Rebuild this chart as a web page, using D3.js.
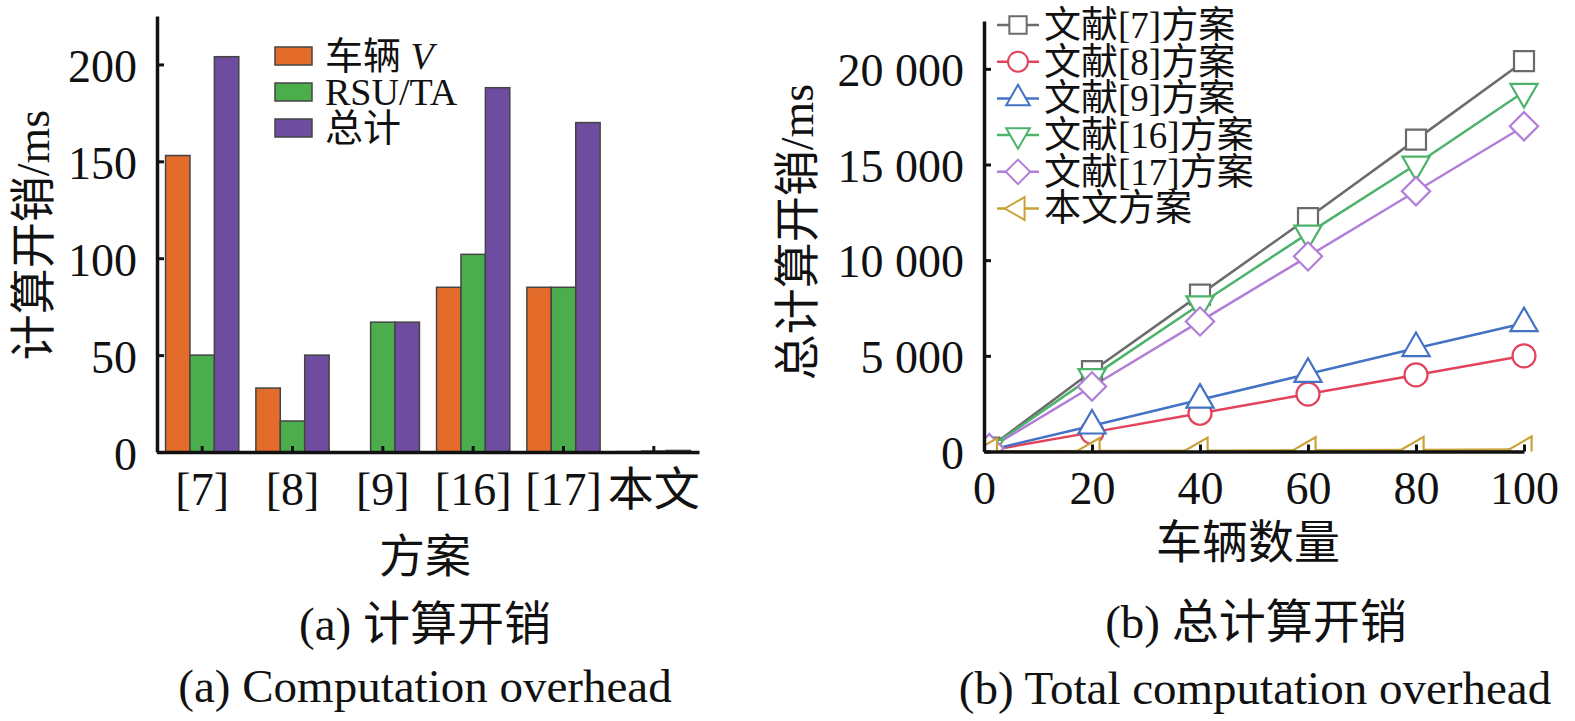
<!DOCTYPE html>
<html>
<head>
<meta charset="utf-8">
<script src="https://cdn.jsdelivr.net/npm/d3@7"></script>
<style>
  body { margin: 0; background: #fff; }
  svg text { font-family: "Liberation Serif", "Times New Roman", "Noto Sans CJK SC", serif; fill: #111; }
</style>
</head>
<body>
<svg id="chart" width="1575" height="721"></svg>
<script>
// (a) computation overhead per scheme
const schemes = ['[7]', '[8]', '[9]', '[16]', '[17]', '本文'];
const barSeries = ['车辆 V', 'RSU/TA', '总计'];
const vehicleCost = [153, 33, 0, 85, 85, 0.2];
const rsuCost = [50, 16, 67, 102, 85, 0.5];
const totalCost = [204, 50, 67, 188, 170, 0.8];
const barColors = ['#e46c2b', '#4cad4c', '#6e4c9f'];
const barTicks = [0, 50, 100, 150, 200];

// (b) total computation overhead vs number of vehicles
const vehicleCounts = [1, 20, 40, 60, 80, 100];
const lineNames = ['文献[7]方案', '文献[8]方案', '文献[9]方案', '文献[16]方案', '文献[17]方案', '本文方案'];
const ref7 = [200, 4200, 8200, 12200, 16300, 20400];
const ref8 = [50, 1000, 2000, 3000, 4000, 5000];
const ref9 = [70, 1350, 2700, 4050, 5400, 6700];
const ref16 = [190, 3900, 7700, 11400, 15000, 18800];
const ref17 = [170, 3400, 6800, 10200, 13600, 17000];
const ours = [1, 20, 40, 60, 80, 100];
const lineColors = ['#6b6b6b', '#e2435a', '#4472c4', '#4db36b', '#b27fd8', '#c9a23a'];
const lineXTicks = [0, 20, 40, 60, 80, 100];
const lineYTicks = [0, 5000, 10000, 15000, 20000];

const svg = d3.select('#chart');
const fontBig = 46;

function styleAxis(g) {
    g.select('.domain').attr('stroke', '#111').attr('stroke-width', 3.5);
    g.selectAll('.tick line').attr('stroke', '#111').attr('stroke-width', 3);
    g.selectAll('.tick text').attr('font-size', fontBig).attr('fill', '#111');
}

// ---------- chart a ----------
let x0 = d3.scaleBand()
    .domain(schemes)
    .range([157, 699])
    .padding(0);

let x1 = d3.scaleBand()
    .domain(barSeries)
    .range([0, x0.bandwidth()])
    .paddingInner(0)
    .paddingOuter(0.35);

let yA = d3.scaleLinear()
    .domain([0, 225])
    .range([452, 16]);

let barData = schemes.map((s, i) => ({
    scheme: s,
    values: [vehicleCost[i], rsuCost[i], totalCost[i]]
}));

svg.append('g')
    .selectAll('g')
    .data(barData)
    .enter()
    .append('g')
    .attr('transform', d => `translate(${x0(d.scheme)},0)`)
    .selectAll('rect')
    .data(d => d.values.map((v, j) => ({ key: barSeries[j], value: v, idx: j })))
    .enter()
    .append('rect')
    .attr('x', d => x1(d.key))
    .attr('width', x1.bandwidth())
    .attr('y', d => yA(d.value))
    .attr('height', d => yA(0) - yA(d.value))
    .attr('fill', d => barColors[d.idx])
    .attr('stroke', d => d.value > 0 ? '#444' : 'none')
    .attr('stroke-width', 1.5);

svg.append('g')
    .attr('transform', 'translate(0,452)')
    .call(d3.axisBottom(x0).tickSizeInner(-6).tickSizeOuter(0).tickPadding(20))
    .call(styleAxis);

svg.append('g')
    .attr('transform', 'translate(157,0)')
    .call(d3.axisLeft(yA).tickValues(barTicks).tickSizeInner(-7).tickSizeOuter(0).tickPadding(20))
    .call(styleAxis)
    .call(g => g.selectAll('.tick text').attr('dy', '0.38em'));

// legend a
let legA = svg.append('g');
barSeries.forEach((name, i) => {
    let cy = 56 + i * 36;
    legA.append('rect')
        .attr('x', 275).attr('y', cy - 9)
        .attr('width', 37).attr('height', 18)
        .attr('fill', barColors[i])
        .attr('stroke', '#444').attr('stroke-width', 1.5);
    let t = legA.append('text')
        .attr('x', 325).attr('y', cy)
        .attr('dy', '0.35em')
        .attr('font-size', 38);
    if (i === 0) {
        t.append('tspan').text('车辆 ');
        t.append('tspan').attr('font-style', 'italic').text('V');
    } else {
        t.text(name);
    }
});

svg.append('text')
    .attr('transform', 'translate(33,235) rotate(-90)')
    .attr('text-anchor', 'middle')
    .attr('dy', '0.35em')
    .attr('font-size', fontBig)
    .text('计算开销/ms');

svg.append('text')
    .attr('x', 425).attr('y', 572)
    .attr('text-anchor', 'middle')
    .attr('font-size', fontBig)
    .text('方案');

svg.append('text')
    .attr('x', 425).attr('y', 640)
    .attr('text-anchor', 'middle')
    .attr('font-size', 47)
    .text('(a) 计算开销');

svg.append('text')
    .attr('x', 425).attr('y', 702)
    .attr('text-anchor', 'middle')
    .attr('font-size', 47)
    .text('(a) Computation overhead');

// ---------- chart b ----------
let xB = d3.scaleLinear()
    .domain([0, 100])
    .range([984, 1524]);

let yB = d3.scaleLinear()
    .domain([0, 22500])
    .range([451.5, 21]);

let fmt = v => d3.format(',')(v).replace(/,/g, ' ');

svg.append('defs').append('clipPath')
    .attr('id', 'plotClip')
    .append('rect')
    .attr('x', xB(0)).attr('y', 0)
    .attr('width', 600).attr('height', yB(0));

let lineSeries = [ref7, ref8, ref9, ref16, ref17, ours];
let shapes = [
    { type: d3.symbolSquare, size: 400, rot: 0 },
    { type: d3.symbolCircle, size: 415, rot: 0 },
    { type: d3.symbolTriangle, size: 320, rot: 0 },
    { type: d3.symbolTriangle, size: 320, rot: 180 },
    { type: d3.symbolSquare, size: 400, rot: 45 },
    { type: d3.symbolTriangle, size: 300, rot: -90 }
];

let line = d3.line()
    .x((d, i) => xB(vehicleCounts[i]))
    .y(d => yB(d));

let plot = svg.append('g').attr('clip-path', 'url(#plotClip)');

lineSeries.forEach((vals, k) => {
    plot.append('path')
        .datum(vals)
        .attr('fill', 'none')
        .attr('stroke', lineColors[k])
        .attr('stroke-width', 2.5)
        .attr('d', line);
});

lineSeries.forEach((vals, k) => {
    plot.append('g')
        .selectAll('path')
        .data(vals)
        .enter()
        .append('path')
        .attr('transform', (d, i) => `translate(${xB(vehicleCounts[i])},${yB(d)}) rotate(${shapes[k].rot})`)
        .attr('d', d3.symbol().type(shapes[k].type).size(shapes[k].size))
        .attr('fill', '#fff')
        .attr('stroke', lineColors[k])
        .attr('stroke-width', 2.2);
});

svg.append('g')
    .attr('transform', `translate(0,${yB(0)})`)
    .call(d3.axisBottom(xB).tickValues(lineXTicks).tickSizeInner(-7).tickSizeOuter(0).tickPadding(20))
    .call(styleAxis);

svg.append('g')
    .attr('transform', `translate(${xB(0)},0)`)
    .call(d3.axisLeft(yB).tickValues(lineYTicks).tickFormat(fmt).tickSizeInner(-7).tickSizeOuter(0).tickPadding(20))
    .call(styleAxis)
    .call(g => g.selectAll('.tick text').attr('dy', '0.36em'));

// legend b
let legB = svg.append('g');
lineNames.forEach((name, k) => {
    let cy = 25 + k * 36.7;
    legB.append('line')
        .attr('x1', 997).attr('x2', 1039)
        .attr('y1', cy).attr('y2', cy)
        .attr('stroke', lineColors[k])
        .attr('stroke-width', 2.5);
    legB.append('path')
        .attr('transform', `translate(1018,${cy}) rotate(${shapes[k].rot})`)
        .attr('d', d3.symbol().type(shapes[k].type).size(shapes[k].size * 0.75))
        .attr('fill', '#fff')
        .attr('stroke', lineColors[k])
        .attr('stroke-width', 2);
    legB.append('text')
        .attr('x', 1044).attr('y', cy)
        .attr('dy', '0.35em')
        .attr('font-size', 37)
        .text(name);
});

svg.append('text')
    .attr('transform', 'translate(797,232) rotate(-90)')
    .attr('text-anchor', 'middle')
    .attr('dy', '0.35em')
    .attr('font-size', fontBig)
    .text('总计算开销/ms');

svg.append('text')
    .attr('x', 1248).attr('y', 558)
    .attr('text-anchor', 'middle')
    .attr('font-size', fontBig)
    .text('车辆数量');

svg.append('text')
    .attr('x', 1256).attr('y', 638)
    .attr('text-anchor', 'middle')
    .attr('font-size', 47)
    .text('(b) 总计算开销');

svg.append('text')
    .attr('x', 1255).attr('y', 704)
    .attr('text-anchor', 'middle')
    .attr('font-size', 47)
    .text('(b) Total computation overhead');
</script>
</body>
</html>
